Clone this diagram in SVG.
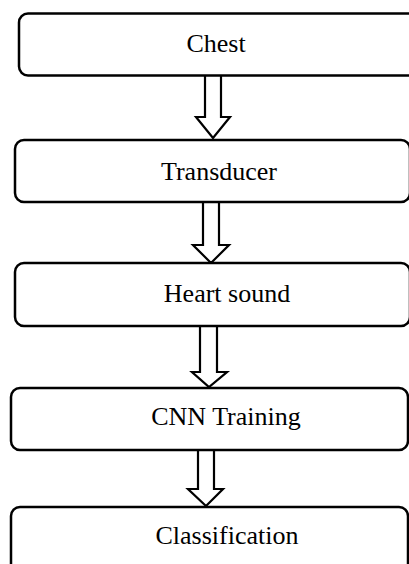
<svg xmlns="http://www.w3.org/2000/svg" width="409" height="564" viewBox="0 0 409 564">
<style>
.box{fill:#fff;stroke:#000;stroke-width:2.5}
.arr{fill:#fff;stroke:#000;stroke-width:2.2;stroke-linejoin:miter}
.lbl{font-family:"Liberation Serif","Times New Roman",serif;font-size:26px;fill:#000;text-anchor:middle}
</style>
<rect width="409" height="564" fill="#fff"/>
<g id="connectors">
<path class="arr" d="M205,76 V117 H196 L213,138 L230,117 H221 V76"/>
<path class="arr" d="M203,202 V245 H193 L211,263 L229,245 H219 V202"/>
<path class="arr" d="M200,326 V372 H192 L209,387 L227,372 H217 V326"/>
<path class="arr" d="M198,450 V489 H188 L206,506 L223,489 H214 V450"/>
</g>
<g id="chest">
<rect class="box" x="19" y="13.5" width="400" height="62" rx="9"/>
<text class="lbl" x="216" y="52">Chest</text>
</g>
<g id="transducer">
<rect class="box" x="15" y="140" width="395" height="62" rx="9"/>
<text class="lbl" x="219" y="180">Transducer</text>
</g>
<g id="heart-sound">
<rect class="box" x="15" y="263" width="395" height="63" rx="9"/>
<text class="lbl" x="227" y="302">Heart sound</text>
</g>
<g id="cnn-training">
<rect class="box" x="11" y="388" width="397" height="62" rx="9"/>
<text class="lbl" x="226" y="425">CNN Training</text>
</g>
<g id="classification">
<rect class="box" x="11" y="507" width="397" height="80" rx="9"/>
<text class="lbl" x="227" y="544">Classification</text>
</g>
</svg>
